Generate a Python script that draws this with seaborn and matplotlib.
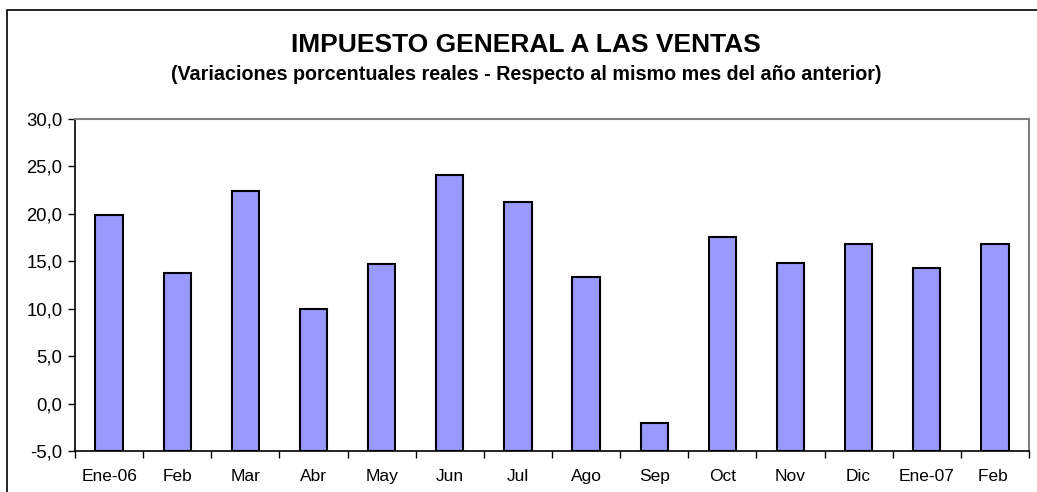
import numpy as np
import pandas as pd
import seaborn as sns
import matplotlib.pyplot as plt
from matplotlib import ticker
from matplotlib.patches import Rectangle

meses = ['Ene-06', 'Feb', 'Mar', 'Abr', 'May', 'Jun', 'Jul', 'Ago',
         'Sep', 'Oct', 'Nov', 'Dic', 'Ene-07', 'Feb ']
variacion = [19.9, 13.8, 22.4, 10.0, 14.7, 24.1, 21.3, 13.3,
             -2.1, 17.6, 14.8, 16.8, 14.3, 16.8]
base = -5.0

sns.set_theme(style='white')
plt.rcParams['font.family'] = ['Liberation Sans', 'DejaVu Sans']
plt.rcParams['text.color'] = 'black'
plt.rcParams['xtick.color'] = 'black'
plt.rcParams['ytick.color'] = 'black'

df = pd.DataFrame({'mes': meses, 'variacion': variacion})
# the bars rise from the bottom of the axis (-5), as in the original sheet
df['altura'] = df['variacion'] - base

fig = plt.figure(figsize=(10.37, 4.92), dpi=100)
ax = fig.add_axes([75 / 1037, 1 - 451 / 492, (1029 - 75) / 1037, (451 - 119) / 492])

sns.barplot(data=df, x='mes', y='altura', ax=ax, color='#9999ff',
            saturation=1, width=0.4, edgecolor='black', linewidth=1.5,
            bottom=base)

ax.set_ylim(-5, 30)
ax.set_xlim(-0.5, len(meses) - 0.5)
ax.yaxis.set_major_locator(ticker.MultipleLocator(5))
ax.yaxis.set_major_formatter(ticker.FuncFormatter(lambda v, p: f'{v:.1f}'.replace('.', ',')))
ax.set_xlabel('')
ax.set_ylabel('')

ax.set_xticks(np.arange(-0.5, len(meses), 1), minor=True)
ax.tick_params(axis='x', which='major', length=0, pad=13, labelsize=12.5,
               labelcolor='black')
ax.tick_params(axis='x', which='minor', length=5, width=1, color='black',
               direction='out', bottom=True)
ax.tick_params(axis='y', length=5, width=1, color='black', direction='out',
               left=True, labelsize=13.3, pad=4, labelcolor='black')

for lado in ['left', 'bottom']:
    ax.spines[lado].set_color('black')
    ax.spines[lado].set_linewidth(1.2)
for lado in ['top', 'right']:
    ax.spines[lado].set_color('#808080')
    ax.spines[lado].set_linewidth(1.5)

fig.text(0.507, 1 - 45 / 492, 'IMPUESTO GENERAL A LAS VENTAS', ha='center',
         va='center', fontsize=19, fontweight='bold', color='black')
fig.text(0.507, 1 - 74 / 492,
         '(Variaciones porcentuales reales - Respecto al mismo mes del año anterior)',
         ha='center', va='center', fontsize=14.2, fontweight='bold', color='black')

fig.add_artist(Rectangle((7 / 1037, -0.2), 1.2, 1.2 - 10 / 492, transform=fig.transFigure,
                         fill=False, edgecolor='black', linewidth=1.2))

fig.savefig('out.png', dpi=100)
